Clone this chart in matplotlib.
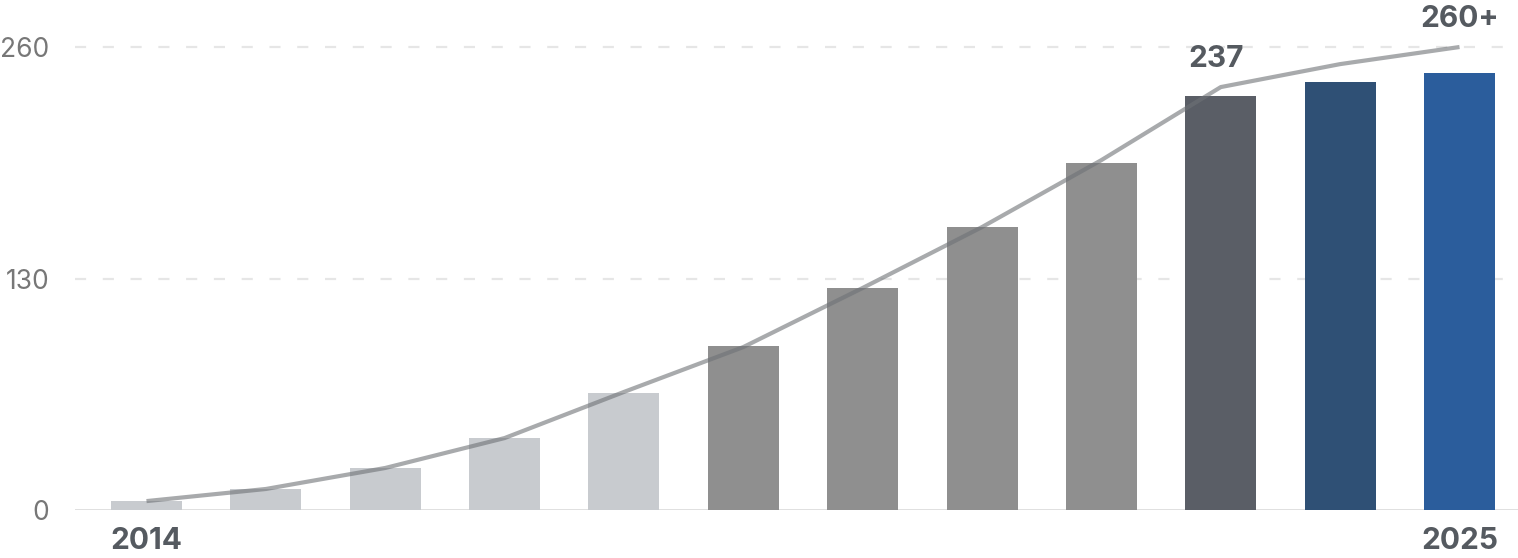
import matplotlib.pyplot as plt

plt.rcParams['font.family'] = ['Inter', 'DejaVu Sans']

# data
years = [2014, 2015, 2016, 2017, 2018, 2019, 2020, 2021, 2022, 2023, 2024, 2025]
bar_vals = [5, 11.6, 23.4, 40.3, 65.5, 92.3, 124.5, 159.1, 194.7, 232.5, 240.5, 245.2]
line_vals = [5, 11.8, 23.6, 40.4, 66.3, 91.5, 124.7, 158.9, 196.5, 237.5, 250.4, 260]
bar_colors = ['#c8cbcf'] * 5 + ['#8f8f8f'] * 4 + ['#5a5e66', '#2f5075', '#2b5d9c']
yticks = [0, 130, 260]
annot = {9: '237', 11: '260+'}

fig = plt.figure(figsize=(15.18, 5.58), dpi=100)
ax = fig.add_axes([75/1518, 48/558, 1443/1518, 510/558])

x = list(range(len(years)))
ax.bar(x, bar_vals, width=0.595, color=bar_colors, zorder=2)
ax.plot(x, line_vals, color='#6e7276', alpha=0.6, lw=3, zorder=3,
        solid_joinstyle='round', solid_capstyle='butt')

for yt in yticks[1:]:
    ax.axhline(yt, color='#e6e6e6', lw=1.6, ls=(0, (5, 7.5)), zorder=1)
ax.axhline(0, color='#dddddd', lw=2, zorder=1)

for i, txt in annot.items():
    ax.annotate(txt, (i, line_vals[i]), xytext=(-3 if i == 9 else 0, 10),
                textcoords='offset points', ha='center', va='bottom',
                fontsize=21.5, fontweight='bold', color='#555a60')

ax.set_xlim(-0.599, 11.49)
ax.set_ylim(0, 286.4)
ax.set_yticks(yticks)
ax.set_yticklabels([str(v) for v in yticks], fontsize=19, color='#777777')
ax.set_xticks([0, 11])
ax.set_xticklabels([str(years[0]), str(years[-1])], fontsize=21.5,
                   fontweight='bold', color='#555a60')
ax.tick_params(axis='y', length=0, pad=18.5)
ax.tick_params(axis='x', length=0, pad=12)
for s in ax.spines.values():
    s.set_visible(False)

fig.savefig('out.png', dpi=100)
